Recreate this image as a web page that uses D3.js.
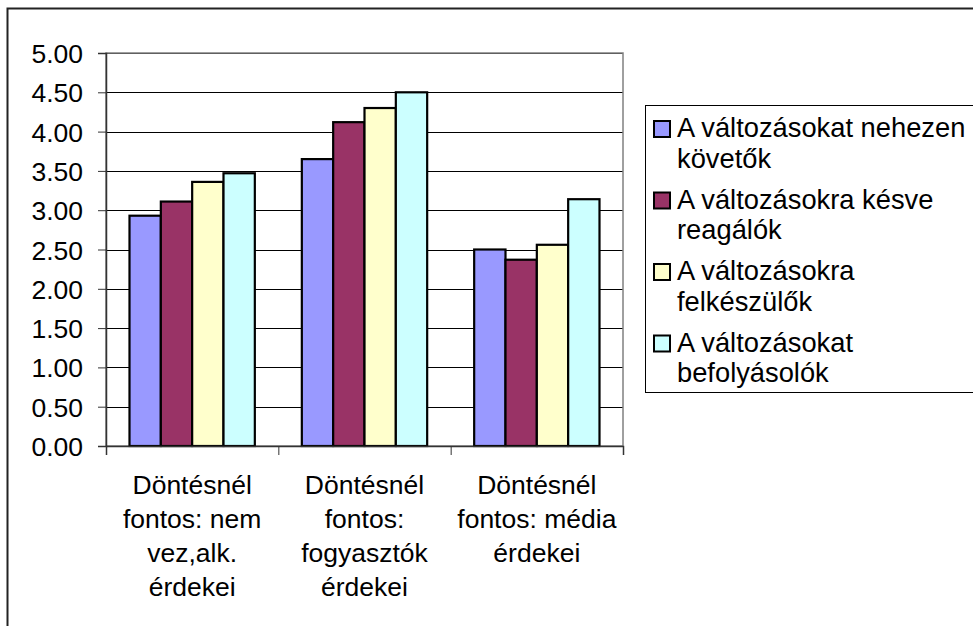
<!DOCTYPE html>
<html>
<head>
<meta charset="utf-8">
<script src="https://cdn.jsdelivr.net/npm/d3@7"></script>
<style>
  body { margin: 0; background: #fff; }
  svg text { font-family: Arial, "Liberation Sans", sans-serif; fill: #000; }
</style>
</head>
<body>
<script>

// categories (one line of the label per entry)
var categories = ["nem", "fogyasztok", "media"]
var categoryLines = [
  ["Döntésnél", "fontos: nem", "vez,alk.", "érdekei"],
  ["Döntésnél", "fontos:", "fogyasztók", "érdekei"],
  ["Döntésnél", "fontos: média", "érdekei"]
]

// series
var seriesNames = [
  ["A változásokat nehezen", "követők"],
  ["A változásokra késve", "reagálók"],
  ["A változásokra", "felkészülők"],
  ["A változásokat", "befolyásolók"]
]
var seriesColors = ["#9999FF", "#993366", "#FFFFCC", "#CCFFFF"]

// values per series, one per category
var kovetok      = [2.93, 3.65, 2.50]
var reagalok     = [3.11, 4.12, 2.37]
var felkeszulok  = [3.36, 4.30, 2.56]
var befolyasolok = [3.47, 4.50, 3.14]

var yTicks = [0, 0.5, 1, 1.5, 2, 2.5, 3, 3.5, 4, 4.5, 5]

var seriesValues = [kovetok, reagalok, felkeszulok, befolyasolok]

var width = 973, height = 626
var plot = {left: 106, top: 53, right: 623, bottom: 446}

var svg = d3.select("body")
            .append("svg")
            .attr("width", width)
            .attr("height", height)

// outer chart border (runs off the picture right and bottom)
svg.append("rect")
    .attr("x", 7.5)
    .attr("y", 8.5)
    .attr("width", 1100)
    .attr("height", 800)
    .style("fill", "none")
    .style("stroke", "#222")
    .style("stroke-width", 2)

var x0 = d3.scaleBand()
    .domain(d3.range(categories.length))
    .range([plot.left, plot.right])

var x1 = d3.scaleBand()
    .domain(d3.range(seriesValues.length))
    .range([0, x0.bandwidth()])
    .paddingOuter(0.75)

var y = d3.scaleLinear()
    .domain([0, 5])
    .range([plot.bottom, plot.top])

// gridlines
svg.append("g")
    .attr("transform", "translate(" + plot.left + ",0)")
    .call(d3.axisLeft(y).tickValues(yTicks).tickSize(-(plot.right - plot.left)).tickFormat(""))
    .call(function(g){
      g.select(".domain").remove()
      g.selectAll("line").style("stroke", "#000").style("shape-rendering", "crispEdges")
    })

// plot area border
svg.append("rect")
    .attr("x", plot.left)
    .attr("y", plot.top)
    .attr("width", plot.right - plot.left)
    .attr("height", plot.bottom - plot.top)
    .style("fill", "none")
    .style("stroke", "#808080")
    .style("stroke-width", 1.5)

// bars
var groups = svg.selectAll("g.series")
    .data(seriesValues)
    .enter()
    .append("g")
    .attr("class", "series")
    .style("fill", function(d, i){ return seriesColors[i] })

groups.selectAll("rect")
    .data(function(d, i){ return d.map(function(v, c){ return {v: v, c: c, s: i} }) })
    .enter()
    .append("rect")
    .attr("x", function(d){ return x0(d.c) + x1(d.s) })
    .attr("y", function(d){ return y(d.v) })
    .attr("width", x1.bandwidth())
    .attr("height", function(d){ return y(0) - y(d.v) })
    .style("stroke", "#000")
    .style("stroke-width", 2.2)

// y axis
svg.append("g")
    .attr("transform", "translate(" + plot.left + ",0)")
    .call(d3.axisLeft(y).tickValues(yTicks).tickSize(8).tickPadding(15).tickFormat(d3.format(".2f")))
    .call(function(g){
      g.select(".domain").style("stroke", "#333").style("stroke-width", 1.5)
      g.selectAll("line").style("stroke", "#333")
      g.selectAll("text").style("font-size", "26.5px").attr("dy", "0.36em")
    })

// x axis with ticks at category boundaries
var xBounds = d3.scaleLinear().domain([0, categories.length]).range([plot.left, plot.right])
svg.append("g")
    .attr("transform", "translate(0," + plot.bottom + ")")
    .call(d3.axisBottom(xBounds).ticks(categories.length).tickSize(9).tickFormat(""))
    .call(function(g){
      g.select(".domain").style("stroke", "#333").style("stroke-width", 1.5)
      g.selectAll("line").style("stroke", "#333")
    })

// category labels
svg.selectAll("text.cat")
    .data(categoryLines)
    .enter()
    .append("text")
    .attr("class", "cat")
    .attr("text-anchor", "middle")
    .style("font-size", "26.5px")
    .each(function(lines, i){
      d3.select(this).selectAll("tspan")
        .data(lines)
        .enter()
        .append("tspan")
        .attr("x", x0(i) + x0.bandwidth() / 2)
        .attr("y", function(d, j){ return plot.bottom + 48 + j * 34 })
        .text(function(d){ return d })
    })

// legend box (cut off at the right edge, as in the original)
svg.append("rect")
    .attr("x", 645.5)
    .attr("y", 105.5)
    .attr("width", 400)
    .attr("height", 287)
    .style("fill", "none")
    .style("stroke", "#000")
    .style("stroke-width", 1)

var items = svg.selectAll("g.legend")
    .data(seriesNames)
    .enter()
    .append("g")
    .attr("class", "legend")
    .attr("transform", function(d, i){ return "translate(653," + (137 + i * 71.5) + ")" })

items.append("rect")
    .attr("x", 1)
    .attr("y", -16)
    .attr("width", 16)
    .attr("height", 16)
    .style("fill", function(d, i){ return seriesColors[i] })
    .style("stroke", "#000")
    .style("stroke-width", 2)

items.append("text")
    .style("font-size", "27.3px")
    .selectAll("tspan")
    .data(function(d){ return d })
    .enter()
    .append("tspan")
    .attr("x", 24)
    .attr("y", function(d, j){ return j * 30.5 })
    .text(function(d){ return d })

</script>
</body>
</html>
